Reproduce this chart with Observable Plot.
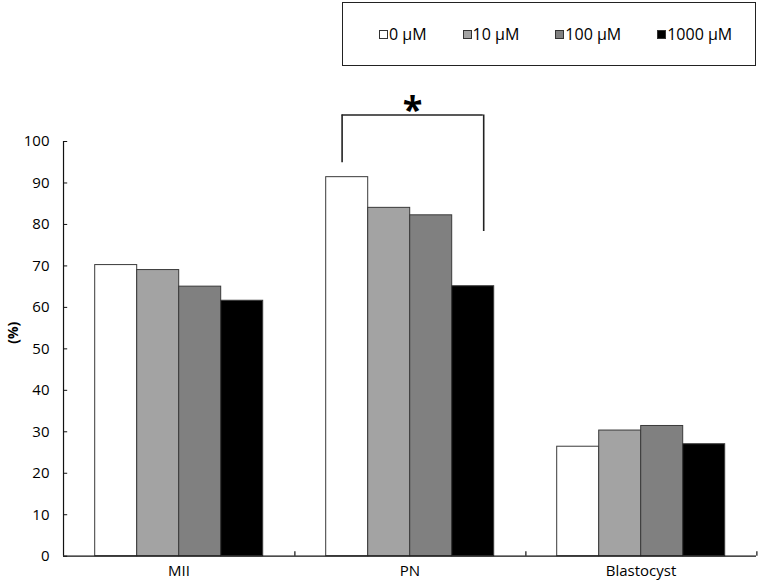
<!DOCTYPE html>
<html>
<head>
<meta charset="utf-8">
<script src="https://cdn.jsdelivr.net/npm/d3@7"></script>
<script src="https://cdn.jsdelivr.net/npm/@observablehq/plot@0.6"></script>
<style>
  html, body { margin: 0; padding: 0; background: #fff; }
  body { width: 760px; height: 587px; overflow: hidden; font-family: "Open Sans", sans-serif; }
  #legend { position: relative; width: 760px; height: 70px; }
  #legend .box {
    position: absolute; left: 342px; top: 2px; width: 376px; height: 62px;
    border: 1.5px solid #222; display: flex; align-items: center;
    padding-left: 36px; box-sizing: content-box; gap: 36px;
  }
  #legend .item { display: flex; align-items: center; font-size: 16px; color: #000; }
  #legend .sw { width: 7px; height: 7px; border: 1px solid #333; margin-right: 1px; }
</style>
</head>
<body>
<div id="legend"><div class="box"></div></div>
<div id="chart"></div>
<script>
// ---- data ----
const categories = ["MII", "PN", "Blastocyst"];
const doses = ["0 µM", "10 µM", "100 µM", "1000 µM"];
const values0 = [70.2, 91.4, 26.4];
const values10 = [69.0, 84.0, 30.3];
const values100 = [65.0, 82.2, 31.4];
const values1000 = [61.6, 65.1, 27.0];
const yTicks = [0, 10, 20, 30, 40, 50, 60, 70, 80, 90, 100];
const doseColors = ["#ffffff", "#a3a3a3", "#808080", "#000000"];
// significance bracket (PN: 0 µM vs 1000 µM)
const bracketCategory = "PN";
const bracketFrom = "0 µM", bracketTo = "1000 µM";
const bracketFromBottom = 94.9, bracketToBottom = 78.3, bracketTop = 106.4;
const sigLabel = "*";

const seriesValues = [values0, values10, values100, values1000];
const rows = [];
categories.forEach((c, i) => doses.forEach((d, j) => rows.push({cat: c, dose: d, value: seriesValues[j][i]})));

// ---- layout ----
const W = 760, H = 517, mL = 61.3, mR = 3.3, mT = 71, mB = 31.3;
const pad = 0.75;
const facetW = (W - mL - mR) / categories.length;
const step = facetW / (doses.length + 2 * pad);
const edge = step / 2 + pad * step;           // band centre -> facet edge
const pxPerUnit = (H - mT - mB) / 100;
const bracketDx = [-5.1, 10.5];

// legend
const box = d3.select("#legend .box");
doses.forEach((d, j) => {
  const it = box.append("div").attr("class", "item");
  it.append("div").attr("class", "sw").style("background", doseColors[j]);
  it.append("span").text(d);
});

const chart = Plot.plot({
  width: W, height: H,
  marginLeft: mL, marginRight: mR, marginTop: mT, marginBottom: mB,
  style: {fontFamily: "Open Sans, sans-serif", fontSize: "15px", color: "#000", overflow: "visible", background: "#fff"},
  fx: {domain: categories, padding: 0, label: null},
  x: {domain: doses, paddingInner: 0, paddingOuter: pad, axis: null},
  y: {domain: [0, 100]},
  color: {domain: doses, range: doseColors},
  marks: [
    Plot.barY(rows, {fx: "cat", x: "dose", y: "value", fill: "dose", stroke: "#3a3a3a", strokeWidth: 1}),
    // baseline
    Plot.ruleY([0], {stroke: "#111", strokeWidth: 1.2}),
    // y axis line
    Plot.ruleX([0], {fx: () => categories[0], x: () => doses[0], dx: -edge, y1: 0, y2: 100, stroke: "#111", strokeWidth: 1.2}),
    // y ticks (inside)
    Plot.ruleY(yTicks, {fx: () => categories[0], y: d => d, insetRight: facetW - 5, stroke: "#111"}),
    // category boundary ticks (inside)
    Plot.ruleX(categories, {fx: d => d, x: () => doses[doses.length - 1], dx: edge, y1: 0, y2: 4.5 / pxPerUnit, stroke: "#111", strokeWidth: 1.2}),
    Plot.axisY({ticks: yTicks, tickSize: 0, tickPadding: 14, label: null, fontSize: 15}),
    Plot.axisFx({anchor: "bottom", tickSize: 0, tickPadding: 9, label: null, fontSize: 15}),
    // y label
    Plot.text([0], {fx: () => categories[0], frameAnchor: "left", text: () => "(%)", rotate: -90, dx: -50, dy: -5, fontWeight: "bold", fontSize: 14}),
    // significance bracket
    Plot.ruleX([0], {fx: () => bracketCategory, x: () => bracketFrom, dx: bracketDx[0], y1: bracketFromBottom, y2: bracketTop, stroke: "#222", strokeWidth: 1.6}),
    Plot.ruleX([0], {fx: () => bracketCategory, x: () => bracketTo, dx: bracketDx[1], y1: bracketToBottom, y2: bracketTop, stroke: "#222", strokeWidth: 1.6}),
    Plot.ruleY([bracketTop], {fx: () => bracketCategory, insetLeft: edge + bracketDx[0], insetRight: edge - bracketDx[1], stroke: "#222", strokeWidth: 1.6}),
    Plot.text([sigLabel], {fx: () => bracketCategory, y: () => bracketTop, text: d => d, dx: 2.5, lineAnchor: "bottom", fontSize: 36, fontWeight: "bold", dy: 7})
  ]
});
document.getElementById("chart").appendChild(chart);
</script>
</body>
</html>
